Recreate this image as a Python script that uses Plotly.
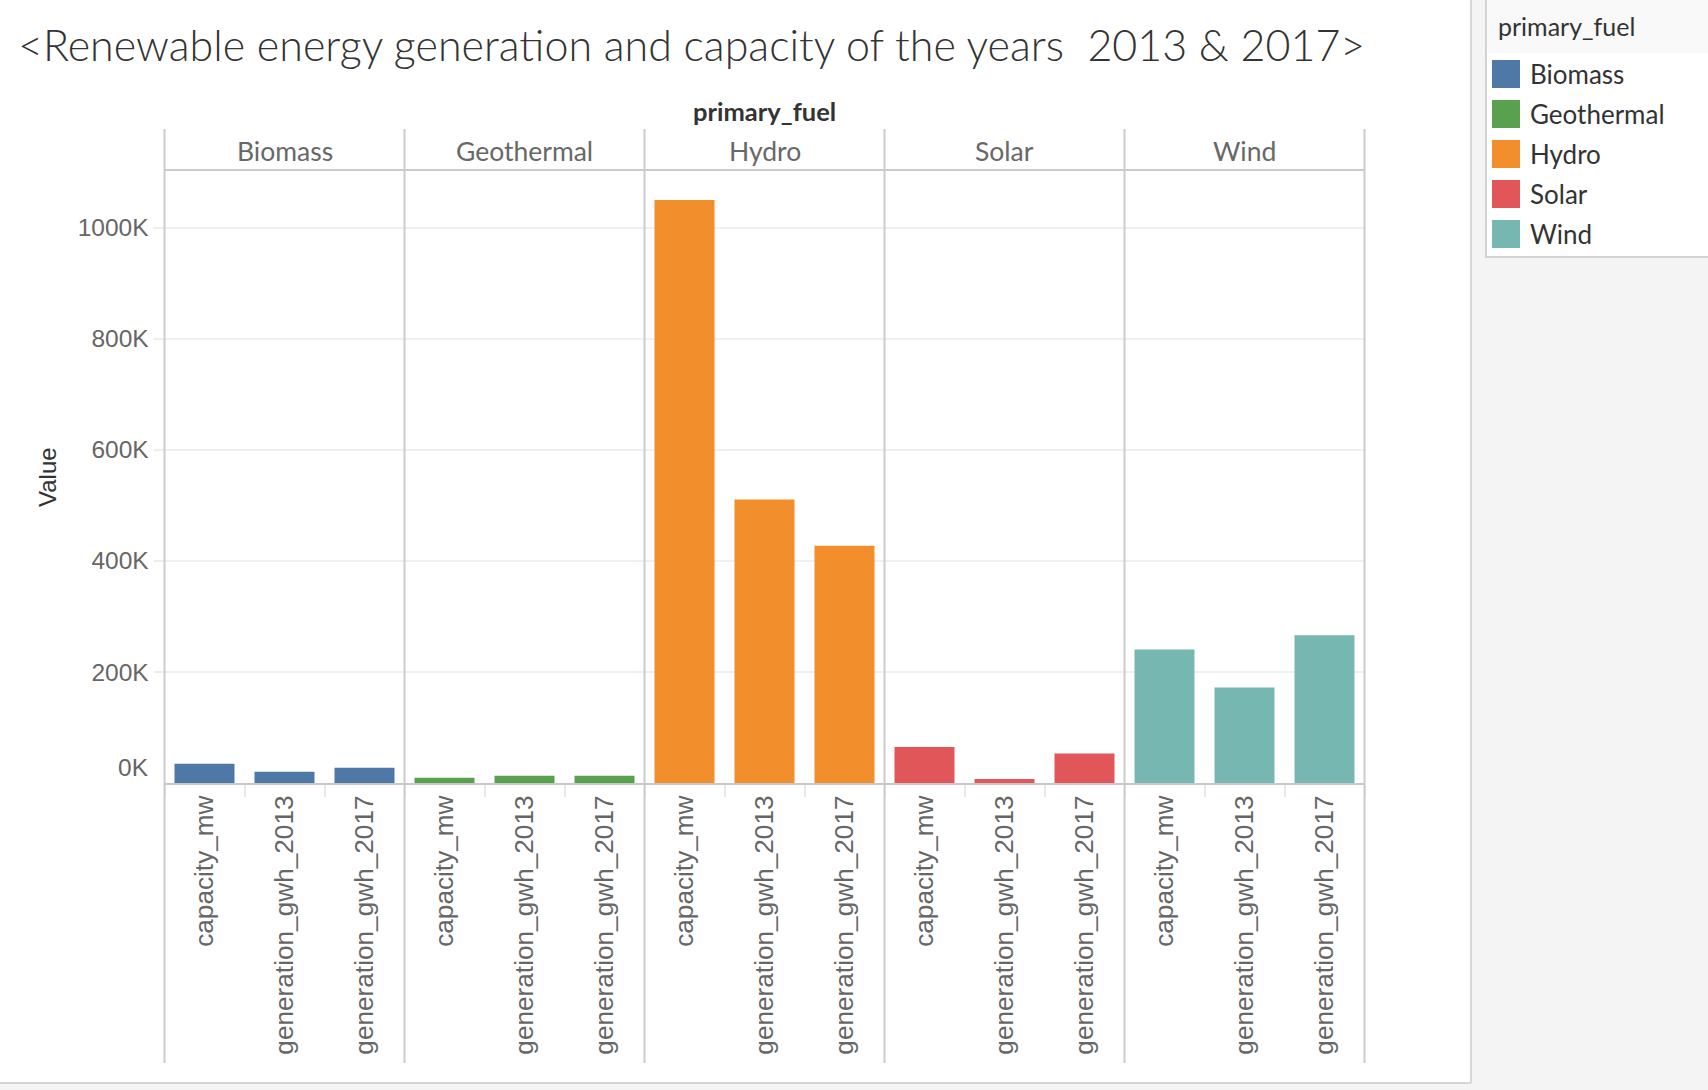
import plotly.graph_objects as go
from plotly.subplots import make_subplots

# ---------------- data ----------------
fuels = ["Biomass", "Geothermal", "Hydro", "Solar", "Wind"]
measures = ["capacity_mw", "generation_gwh_2013", "generation_gwh_2017"]
fuel_colors = ["#4e79a7", "#59a14f", "#f28e2b", "#e15759", "#76b7b2"]
capacity_mw = [34600, 9600, 1050000, 64700, 240400]
generation_gwh_2013 = [20300, 13100, 510700, 7000, 172000]
generation_gwh_2017 = [27500, 13000, 427500, 53300, 266000]
y_tick_values = [200000, 400000, 600000, 800000, 1000000]
y_tick_labels = ["200K", "400K", "600K", "800K", "1000K"]
title_text = "<Renewable energy generation and capacity of the years  2013 & 2017>"

# ---------------- layout geometry (pixels) ----------------
W, H = 1708, 1090
PLOT_L, PANEL_W = 164.5, 240.0
PLOT_T, PLOT_B = 170.0, 783.0
HEAD_T, LINE_B = 129.0, 1063.0
Y_MAX = 1104000

def px(x):
    return x / W

def py(y):
    return 1 - y / H

fig = make_subplots(rows=1, cols=5, shared_yaxes=True, horizontal_spacing=0)

for i, fuel in enumerate(fuels):
    vals = [capacity_mw[i], generation_gwh_2013[i], generation_gwh_2017[i]]
    fig.add_trace(
        go.Bar(x=measures, y=vals, marker=dict(color=fuel_colors[i], line=dict(width=0)),
               name=fuel, showlegend=False, hoverinfo="x+y"),
        row=1, col=i + 1,
    )
    x0 = PLOT_L + PANEL_W * i
    fig.update_xaxes(
        domain=[px(x0), px(x0 + PANEL_W)], type="category", range=[-0.5, 2.5],
        showline=True, linecolor="#c8c8c8", linewidth=2,
        ticks="outside", tickson="boundaries", ticklen=12, tickwidth=1.5, tickcolor="#e8e8e8",
        tickangle=-90, tickfont=dict(family="Liberation Sans, Arial", size=26.2, color="#666666"),
        showgrid=False, zeroline=False, automargin=False, fixedrange=True,
        row=1, col=i + 1,
    )
    fig.update_yaxes(
        domain=[py(PLOT_B), py(PLOT_T)], range=[0, Y_MAX],
        tickvals=y_tick_values, ticktext=y_tick_labels,
        showgrid=True, gridcolor="#f0f0f0", gridwidth=2,
        zeroline=False, showline=False, automargin=False, fixedrange=True,
        ticks="outside" if i == 0 else "", ticklen=10, tickcolor="#eeeeee", tickwidth=2,
        showticklabels=(i == 0),
        tickfont=dict(family="Liberation Sans, Arial", size=24.5, color="#666666"),
        row=1, col=i + 1,
    )

shapes = []
# right gray panel and bottom strip
shapes.append(dict(type="rect", xref="paper", yref="paper", x0=px(1471), x1=1.01, y0=-0.01, y1=1.01,
                   fillcolor="#f4f4f4", line=dict(width=0), layer="below"))
shapes.append(dict(type="rect", xref="paper", yref="paper", x0=-0.01, x1=px(1471), y0=-0.01, y1=py(1083),
                   fillcolor="#f4f4f4", line=dict(width=0), layer="below"))
shapes.append(dict(type="line", xref="paper", yref="paper", x0=px(1471), x1=px(1471), y0=py(1083), y1=1.01,
                   line=dict(color="#d6d6d6", width=2)))
shapes.append(dict(type="line", xref="paper", yref="paper", x0=-0.01, x1=px(1471), y0=py(1083), y1=py(1083),
                   line=dict(color="#d6d6d6", width=2)))
# legend box
shapes.append(dict(type="rect", xref="paper", yref="paper", x0=px(1486), x1=1.01, y0=py(257), y1=1.01,
                   fillcolor="#ffffff", line=dict(color="#d2d2d2", width=2)))
shapes.append(dict(type="rect", xref="paper", yref="paper", x0=px(1487.5), x1=1.0, y0=py(53), y1=1.0,
                   fillcolor="#f9f9f9", line=dict(width=0)))
for i, fuel in enumerate(fuels):
    top = 60 + 40 * i
    shapes.append(dict(type="rect", xref="paper", yref="paper", x0=px(1492), x1=px(1520),
                       y0=py(top + 28), y1=py(top), fillcolor=fuel_colors[i], line=dict(width=0)))
# panel vertical lines
for i in range(len(fuels) + 1):
    x = PLOT_L + PANEL_W * i
    shapes.append(dict(type="line", xref="paper", yref="paper", x0=px(x), x1=px(x),
                       y0=py(LINE_B), y1=py(HEAD_T), line=dict(color="#cbcbcb", width=2)))
# header line
shapes.append(dict(type="line", xref="paper", yref="paper", x0=px(PLOT_L), x1=px(PLOT_L + PANEL_W * 5),
                   y0=py(PLOT_T), y1=py(PLOT_T), line=dict(color="#cbcbcb", width=2)))

annotations = []
annotations.append(dict(text=title_text, xref="paper", yref="paper", x=px(16), y=py(44),
                        xanchor="left", yanchor="middle", showarrow=False,
                        font=dict(family="Lato", size=43, color="#333333", weight=300)))
annotations.append(dict(text="<b>primary_fuel</b>", xref="paper", yref="paper",
                        x=px(PLOT_L + PANEL_W * 2.5), y=py(111), xanchor="center", yanchor="middle",
                        showarrow=False, font=dict(family="Lato", size=25.5, color="#333333")))
for i, fuel in enumerate(fuels):
    annotations.append(dict(text=fuel, xref="paper", yref="paper",
                            x=px(PLOT_L + PANEL_W * (i + 0.5)), y=py(151), xanchor="center",
                            yanchor="middle", showarrow=False,
                            font=dict(family="Lato", size=26.5, color="#686868")))
annotations.append(dict(text="Value", xref="paper", yref="paper", x=px(47), y=py(477),
                        xanchor="center", yanchor="middle", textangle=-90, showarrow=False,
                        font=dict(family="Liberation Sans, Arial", size=24, color="#333333")))
annotations.append(dict(text="0K", xref="paper", yref="y", x=px(151), y=0, yshift=16,
                        xanchor="right", yanchor="middle", showarrow=False,
                        font=dict(family="Liberation Sans, Arial", size=24.5, color="#666666")))
annotations.append(dict(text="primary_fuel", xref="paper", yref="paper", x=px(1496), y=py(26),
                        xanchor="left", yanchor="middle", showarrow=False,
                        font=dict(family="Lato", size=25, color="#333333")))
for i, fuel in enumerate(fuels):
    annotations.append(dict(text=fuel, xref="paper", yref="paper", x=px(1528), y=py(74 + 40 * i),
                            xanchor="left", yanchor="middle", showarrow=False,
                            font=dict(family="Lato", size=26, color="#333333")))

fig.update_layout(
    width=W, height=H, autosize=False,
    margin=dict(l=0, r=0, t=0, b=0, pad=0),
    paper_bgcolor="#ffffff", plot_bgcolor="#ffffff",
    bargap=0.25, showlegend=False,
    shapes=shapes, annotations=annotations,
    font=dict(family="Lato", color="#333333"),
)

fig.write_html("out.html", config={"displayModeBar": False},
               post_script="document.body.style.margin='0';document.body.style.overflow='hidden';")
